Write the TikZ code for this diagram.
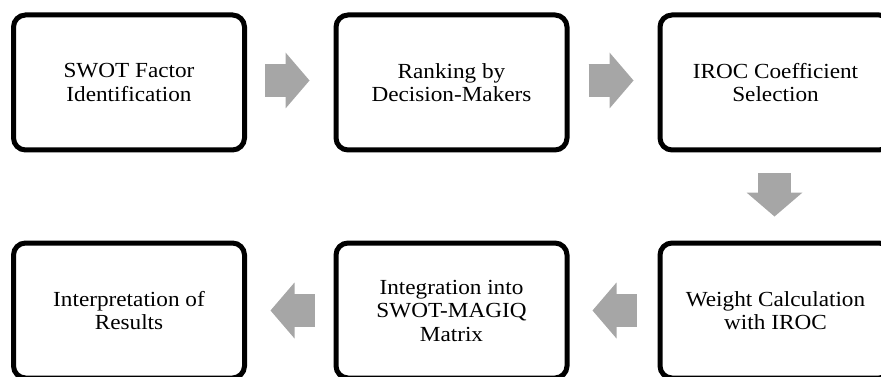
\documentclass[tikz,border=0pt]{standalone}
\usepackage{fontspec}
\setmainfont{Liberation Serif}[FakeStretch=1.08]
\usetikzlibrary{arrows.meta}
\definecolor{arrowgray}{HTML}{A6A6A6}
\begin{document}
\begin{tikzpicture}[x=1pt,y=-1pt,
  stepbox/.style={draw=black, line width=5pt, rounded corners=12pt,
    minimum width=231pt, minimum height=135pt, align=center, inner sep=0pt,
    font=\fontsize{21.5}{23.5}\selectfont},
  blockarrow/.style={draw=arrowgray, line width=33pt,
    preaction={draw=arrowgray, line width=33pt, -, shorten >=22pt},
    -{Triangle[width=56pt,length=24pt,line width=0pt]}}]
\useasboundingbox (0,0) rectangle (881,377);
\clip (0,0) rectangle (881,377);
\node[stepbox] (b1) at (129,82.5) {SWOT Factor\\Identification};
\node[stepbox] (b2) at (451.5,82.5) {Ranking by\\Decision-Makers};
\node[stepbox] (b3) at (775.5,82.5) {IROC Coefficient\\Selection};
\node[stepbox] (b4) at (775.5,310.5) {Weight Calculation\\with IROC};
\node[stepbox] (b5) at (451.5,310.5) {Integration into\\SWOT-MAGIQ\\Matrix};
\node[stepbox] (b6) at (129,310.5) {Interpretation of\\Results};
\draw[blockarrow] ([shift={(18pt,2pt)}]b1.east) -- ([shift={(-24pt,2pt)}]b2.west);
\draw[blockarrow] ([shift={(19pt,2pt)}]b2.east) -- ([shift={(-24pt,2pt)}]b3.west);
\draw[blockarrow] ([shift={(-1pt,-21pt)}]b3.south) -- ([shift={(-1pt,24pt)}]b4.north);
\draw[blockarrow] ([xshift=-21pt]b4.west) -- ([xshift=23pt]b5.east);
\draw[blockarrow] ([xshift=-19pt]b5.west) -- ([xshift=23.5pt]b6.east);
\end{tikzpicture}
\end{document}
